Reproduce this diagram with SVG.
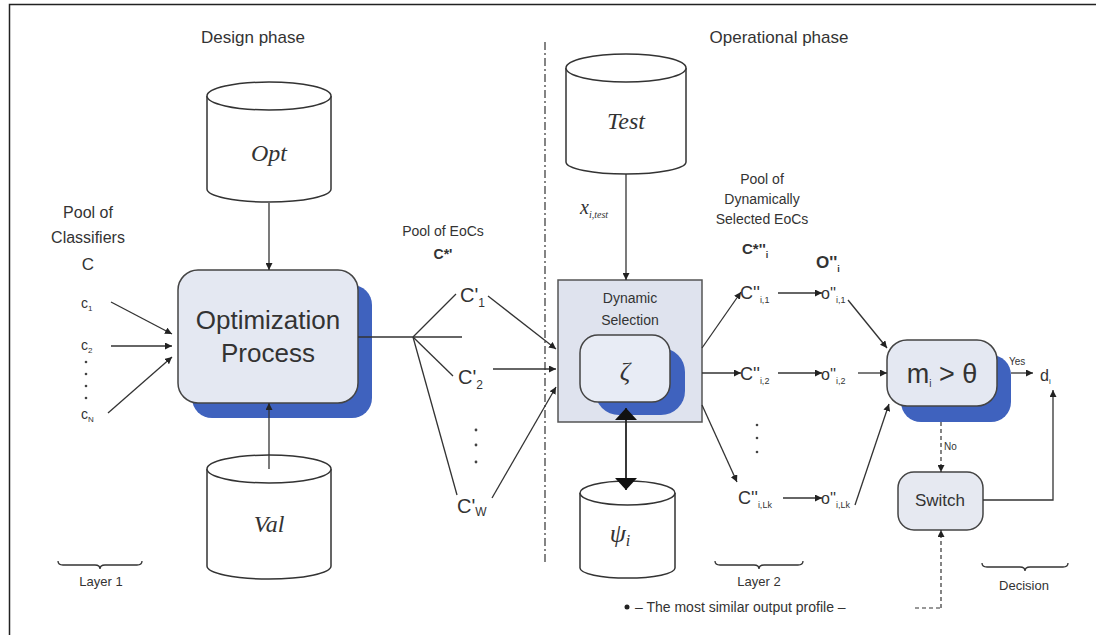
<svg xmlns="http://www.w3.org/2000/svg" width="1096" height="635" viewBox="0 0 1096 635">
<defs>
<style>
.t{font-family:"Liberation Sans",Arial,sans-serif;fill:#333;}
.s{font-family:"Liberation Serif","Times New Roman",serif;font-style:italic;fill:#333;}
.ln{stroke:#333;stroke-width:1.3;fill:none;}
.cyl{fill:#fff;stroke:#333;stroke-width:1.5;}
.box{fill:#e4e8f2;stroke:#444;stroke-width:1.5;}
.sh{fill:#3f62be;}
.dash{stroke:#333;stroke-width:1.2;stroke-dasharray:4,3;fill:none;}
</style>
<marker id="a" viewBox="0 0 10 10" refX="10" refY="5" markerWidth="7" markerHeight="7" markerUnits="userSpaceOnUse" orient="auto"><path d="M0,0 L10,5 L0,10 z" fill="#222"/></marker>
<marker id="big" viewBox="0 0 10 10" refX="10" refY="5" markerWidth="12" markerHeight="22" markerUnits="userSpaceOnUse" orient="auto-start-reverse" preserveAspectRatio="none"><path d="M0,0 L10,5 L0,10 z" fill="#111"/></marker>
</defs>
<rect x="0" y="0" width="1096" height="635" fill="#fff"/>
<path d="M9.5,635 V4.5 H1096" fill="none" stroke="#222" stroke-width="1.5"/>

<g id="titles">
<text class="t" x="253" y="43" font-size="17" text-anchor="middle">Design phase</text>
<text class="t" x="779" y="43" font-size="17" text-anchor="middle">Operational phase</text>
</g>

<g id="divider"><line x1="545" y1="42" x2="545" y2="563" stroke="#333" stroke-width="1.2" stroke-dasharray="8,3,2,3"/></g>

<g id="opt">
<path class="cyl" d="M207,96 V189 A62,13 0 0 0 331,189 V96"/>
<ellipse class="cyl" cx="269" cy="96" rx="62" ry="14"/>
<text class="s" x="269" y="161" font-size="24" text-anchor="middle">Opt</text>
</g>

<g id="val">
<path class="cyl" d="M207,469 V566 A62,13 0 0 0 331,566 V469"/>
<ellipse class="cyl" cx="269" cy="469" rx="62" ry="14"/>
<text class="s" x="269" y="532" font-size="24" text-anchor="middle">Val</text>
</g>

<g id="optproc">
<rect class="sh" x="192" y="285" width="180" height="133" rx="20"/>
<rect class="box" x="178" y="270" width="180" height="133" rx="20"/>
<text class="t" x="268" y="329" font-size="26" text-anchor="middle">Optimization</text>
<text class="t" x="268" y="362" font-size="26" text-anchor="middle">Process</text>
</g>

<g id="classifiers">
<text class="t" x="88" y="218" font-size="16" text-anchor="middle">Pool of</text>
<text class="t" x="88" y="243" font-size="16" text-anchor="middle">Classifiers</text>
<text class="t" x="88" y="270" font-size="17" text-anchor="middle">C</text>
<text class="t" x="81" y="308" font-size="14">c<tspan font-size="8" dy="3">1</tspan></text>
<text class="t" x="81" y="350" font-size="14">c<tspan font-size="8" dy="3">2</tspan></text>
<circle cx="86" cy="362" r="1.3" fill="#444"/><circle cx="86" cy="374" r="1.3" fill="#444"/><circle cx="86" cy="386" r="1.3" fill="#444"/><circle cx="86" cy="398" r="1.3" fill="#444"/>
<text class="t" x="81" y="419" font-size="14">c<tspan font-size="8" dy="3">N</tspan></text>
</g>

<g id="eocs">
<text class="t" x="443" y="236" font-size="14" text-anchor="middle">Pool of EoCs</text>
<text class="t" x="443" y="259" font-size="14" text-anchor="middle" font-weight="bold">C*'</text>
<text class="t" x="460" y="302" font-size="20">C'<tspan font-size="12" dy="5">1</tspan></text>
<text class="t" x="458" y="384" font-size="20">C'<tspan font-size="12" dy="5">2</tspan></text>
<circle cx="476" cy="430" r="1.4" fill="#444"/><circle cx="476" cy="445" r="1.4" fill="#444"/><circle cx="476" cy="462" r="1.4" fill="#444"/>
<text class="t" x="457" y="513" font-size="20">C'<tspan font-size="12" dy="3">W</tspan></text>
</g>

<g id="test">
<path class="cyl" d="M566,68 V162 A60,12 0 0 0 686,162 V68"/>
<ellipse class="cyl" cx="626" cy="68" rx="60" ry="14"/>
<text class="s" x="626" y="129" font-size="24" text-anchor="middle">Test</text>
<text class="s" x="580" y="214" font-size="20">x<tspan font-size="10" dy="4">i,test</tspan></text>
</g>

<g id="psi">
<path class="cyl" d="M580,493 V568 A47,10 0 0 0 675,568 V493"/>
<ellipse class="cyl" cx="627.5" cy="493" rx="47.5" ry="12"/>
<text class="s" x="620" y="542" font-size="26" text-anchor="middle">ψ<tspan font-size="16" dy="4">i</tspan></text>
</g>

<g id="dynsel">
<rect x="558" y="280" width="144" height="142" fill="#dfe3ee" stroke="#555" stroke-width="1.5"/>
<text class="t" x="630" y="303" font-size="14" text-anchor="middle">Dynamic</text>
<text class="t" x="630" y="325" font-size="14" text-anchor="middle">Selection</text>
<rect class="sh" x="595" y="348" width="90" height="67" rx="24"/>
<rect x="580" y="335" width="90" height="67" rx="18" fill="#e8ecf5" stroke="#444" stroke-width="1.5"/>
<text class="s" x="625" y="380" font-size="26" text-anchor="middle">ζ</text>
</g>

<g id="layer2">
<text class="t" x="762" y="184" font-size="14" text-anchor="middle">Pool of</text>
<text class="t" x="762" y="204" font-size="14" text-anchor="middle">Dynamically</text>
<text class="t" x="762" y="224" font-size="14" text-anchor="middle">Selected EoCs</text>
<text class="t" x="742" y="254" font-size="15" font-weight="bold">C*''<tspan font-size="9" dy="4">i</tspan></text>
<text class="t" x="816" y="268" font-size="17" font-weight="bold">O''<tspan font-size="9" dy="4">i</tspan></text>
<text class="t" x="740" y="299" font-size="18">C''<tspan font-size="9" dy="4">i,1</tspan></text>
<text class="t" x="821" y="299" font-size="16">o''<tspan font-size="9" dy="4">i,1</tspan></text>
<text class="t" x="740" y="380" font-size="18">C''<tspan font-size="9" dy="4">i,2</tspan></text>
<text class="t" x="821" y="380" font-size="16">o''<tspan font-size="9" dy="4">i,2</tspan></text>
<circle cx="757" cy="425" r="1.3" fill="#444"/><circle cx="757" cy="438" r="1.3" fill="#444"/><circle cx="757" cy="452" r="1.3" fill="#444"/>
<text class="t" x="738" y="504" font-size="18">C''<tspan font-size="9" dy="4">i,Lk</tspan></text>
<text class="t" x="821" y="504" font-size="16">o''<tspan font-size="9" dy="4">i,Lk</tspan></text>
</g>

<g id="decision">
<rect class="sh" x="901" y="355" width="110" height="67" rx="20"/>
<rect class="box" x="887" y="340" width="110" height="66" rx="20"/>
<text class="t" x="942" y="383" font-size="27" text-anchor="middle">m<tspan font-size="10" dy="4">i</tspan><tspan dy="-4"> &gt; θ</tspan></text>
<text class="t" x="1009" y="365" font-size="10">Yes</text>
<text class="t" x="1040" y="381" font-size="16">d<tspan font-size="8" dy="3">i</tspan></text>
<text class="t" x="944" y="450" font-size="10">No</text>
</g>

<g id="switch">
<rect x="898" y="472" width="85" height="58" rx="16" fill="#e6e9f1" stroke="#444" stroke-width="1.5"/>
<text class="t" x="940" y="506" font-size="17" text-anchor="middle">Switch</text>
</g>

<g id="braces">
<path class="ln" d="M58,561 q0,4 5,4 h32 q5,0 5,4 q0,-4 5,-4 h32 q5,0 5,-4" stroke-width="1"/>
<text class="t" x="101" y="586" font-size="13" text-anchor="middle">Layer 1</text>
<path class="ln" d="M715,561 q0,4 5,4 h34 q5,0 5,4 q0,-4 5,-4 h34 q5,0 5,-4" stroke-width="1"/>
<text class="t" x="759" y="586" font-size="13" text-anchor="middle">Layer 2</text>
<path class="ln" d="M982,563 q0,4 5,4 h33 q5,0 5,4 q0,-4 5,-4 h33 q5,0 5,-4" stroke-width="1"/>
<text class="t" x="1024" y="590" font-size="13" text-anchor="middle">Decision</text>
<circle cx="627" cy="607" r="2.5" fill="#222"/>
<text class="t" x="635" y="612" font-size="14">– The most similar output profile –</text>
</g>

<g id="connectors">
<line class="ln" x1="269" y1="203" x2="269" y2="270" marker-end="url(#a)"/>
<line class="ln" x1="269" y1="469" x2="269" y2="403" marker-end="url(#a)"/>
<line class="ln" x1="111" y1="302" x2="172" y2="334" marker-end="url(#a)"/>
<line class="ln" x1="111" y1="346" x2="172" y2="346" marker-end="url(#a)"/>
<line class="ln" x1="108" y1="413" x2="172" y2="357" marker-end="url(#a)"/>
<polyline class="ln" points="358,337 462,337"/>
<line class="ln" x1="413" y1="337" x2="456" y2="294"/>
<line class="ln" x1="413" y1="337" x2="453" y2="376"/>
<line class="ln" x1="413" y1="337" x2="457" y2="495"/>
<line class="ln" x1="488" y1="296" x2="556" y2="349" marker-end="url(#a)"/>
<line class="ln" x1="493" y1="369" x2="556" y2="369" marker-end="url(#a)"/>
<line class="ln" x1="492" y1="498" x2="556" y2="387" marker-end="url(#a)"/>
<line class="ln" x1="626" y1="174" x2="626" y2="280" marker-end="url(#a)"/>
<line x1="626" y1="408" x2="626" y2="490" stroke="#222" stroke-width="1.8" marker-start="url(#big)" marker-end="url(#big)"/>
<line class="ln" x1="702" y1="348" x2="741" y2="292" marker-end="url(#a)"/>
<line class="ln" x1="702" y1="373" x2="741" y2="373" marker-end="url(#a)"/>
<line class="ln" x1="702" y1="405" x2="737" y2="482" marker-end="url(#a)"/>
<line class="ln" x1="778" y1="293" x2="822" y2="293" marker-end="url(#a)"/>
<line class="ln" x1="778" y1="373" x2="822" y2="373" marker-end="url(#a)"/>
<line class="ln" x1="783" y1="498" x2="822" y2="498" marker-end="url(#a)"/>
<line class="ln" x1="848" y1="300" x2="887" y2="348" marker-end="url(#a)"/>
<line class="ln" x1="858" y1="373" x2="887" y2="373" marker-end="url(#a)"/>
<line class="ln" x1="855" y1="505" x2="889" y2="404" marker-end="url(#a)"/>
<line class="ln" x1="1011" y1="373" x2="1033" y2="373" marker-end="url(#a)"/>
<polyline class="ln" points="983,500 1053,500 1053,390" marker-end="url(#a)"/>
<line class="dash" x1="941" y1="422" x2="941" y2="472" marker-end="url(#a)"/>
<line class="dash" x1="941" y1="608" x2="941" y2="530" marker-end="url(#a)"/>
<line class="dash" x1="915" y1="608" x2="941" y2="608"/>
</g>
</svg>
